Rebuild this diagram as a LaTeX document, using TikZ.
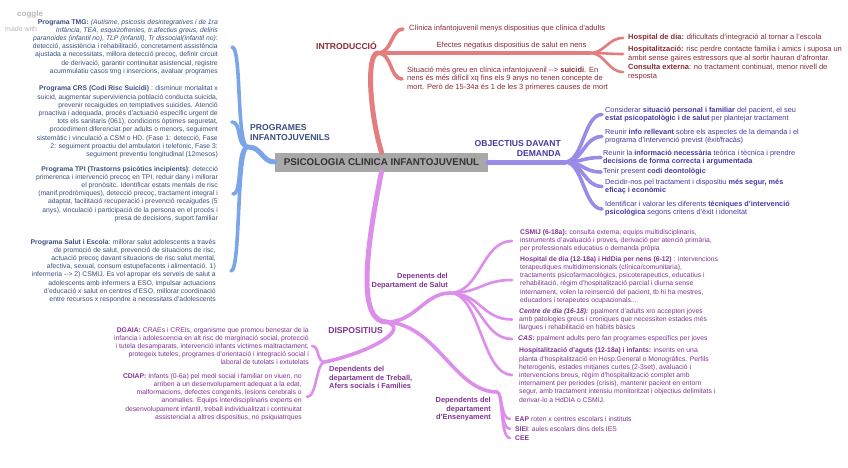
\documentclass[tikz,border=0pt]{standalone}
\usepackage{fontspec}
\setmainfont{Liberation Sans}
\usetikzlibrary{positioning}
\definecolor{hubgray}{RGB}{168,168,168}
\definecolor{hubtext}{RGB}{51,51,51}
\definecolor{redline}{RGB}{228,125,125}
\definecolor{redtext}{RGB}{138,42,52}
\definecolor{blueline}{RGB}{122,166,232}
\definecolor{bluetext}{RGB}{58,78,128}
\definecolor{violine}{RGB}{152,140,232}
\definecolor{viotext}{RGB}{72,56,158}
\definecolor{pinkline}{RGB}{221,142,234}
\definecolor{pinktext}{RGB}{128,52,146}
\tikzset{
  hub/.style    = {fill=hubgray, text=hubtext, font=\bfseries\fontsize{9.8}{11}\selectfont, minimum width=213pt, minimum height=19pt, inner sep=0pt},
  topic/.style  = {font=\bfseries\fontsize{8.6}{10.2}\selectfont, inner sep=0pt},
  sub/.style    = {font=\bfseries\fontsize{7.4}{8.6}\selectfont, inner sep=0pt},
  leaf/.style   = {font=\fontsize{6.8}{8.2}\selectfont, inner sep=0pt},
  rleaf/.style  = {leaf, font=\fontsize{7.5}{8.4}\selectfont},
  vleaf/.style  = {leaf, font=\fontsize{7.3}{8.0}\selectfont},
  wmark/.style  = {text=black!28, inner sep=0pt, anchor=west},
  trunk/.style  = {line width=5pt, line cap=round},
  branch/.style = {line width=3.6pt, line cap=round},
  twig/.style   = {line width=2.6pt, line cap=round},
}

\begin{document}
\begin{tikzpicture}[x=1pt, y=-1pt]
  \fill[white] (0,0) rectangle (848,468);
  \useasboundingbox (0,0) rectangle (848,468);

  \node[wmark, font=\bfseries\fontsize{8}{9}\selectfont] (coggle) at (17,14) {coggle};
  \node[wmark, font=\fontsize{7}{8}\selectfont] (madewith) at (5,29) {made with};

  \node[hub] (hub) at (381.5,162) {PSICOLOGIA CLINICA INFANTOJUVENUL};

  % introduccio
  \coordinate (intro) at (378,53);
  \coordinate (hospj) at (590,53);
  \coordinate (clintip) at (403,29);
  \coordinate (suictip) at (402,79);
  \coordinate (hdtip) at (623,38);
  \coordinate (hosptip) at (623,54);
  \coordinate (cextip) at (623,72);
  \draw[trunk, redline] (hub.north) .. controls +(-12,-40) and +(-12,0) .. (intro);
  \draw[branch, redline] (intro) .. controls +(14,0) and +(-12,0) .. (clintip);
  \draw[branch, redline] (intro) .. controls +(14,0) and +(-12,0) .. (suictip);
  \draw[branch, redline] (intro) -- node[rleaf, pos=.63, above=2.5pt, text=redtext] (efectes) {Efectes negatius dispositius de salut en nens} (hospj);
  \draw[twig, redline] (hospj) .. controls +(15,0) and +(-15,0) .. (hdtip);
  \draw[twig, redline] (hospj) .. controls +(15,0) and +(-15,0) .. (hosptip);
  \draw[twig, redline] (hospj) .. controls +(15,0) and +(-15,0) .. (cextip);
  \node[topic, text=redtext, above left=3pt and 1pt of intro] (introlab) {INTRODUCCIÓ};
  \node[rleaf, text=redtext, right=6pt of clintip] (clinica) {Clínica infantojuvenil menys dispositius que clínica d'adults};
  \node[rleaf, text=redtext, align=left, right=5pt of suictip] (suicidi) {Situació més greu en clínica infantojuvenil -{}-> \textbf{suicidi}. En\\nens és més difícil xq fins els 9 anys no tenen concepte de\\mort. Però de 15-34a és 1 de les 3 primeres causes de mort};
  \node[rleaf, text=redtext, right=5pt of hdtip] (hdia) {\textbf{Hospital de dia:} dificultats d'integració al tornar a l'escola};
  \node[rleaf, text=redtext, align=left, right=5pt of hosptip] (hospit) {\textbf{Hospitalització:} risc perdre contacte familia i amics i suposa un\\àmbit sense gaires estressors que al sortir hauran d'afrontar.};
  \node[rleaf, text=redtext, align=left, right=5pt of cextip] (cexterna) {\textbf{Consulta externa}: no tractament continuat, menor nivell de\\resposta};

  % programes
  \coordinate (prog) at (248,147);
  \coordinate (tmgtip) at (232,47);
  \coordinate (crstip) at (232,122);
  \coordinate (tpitip) at (233,194);
  \coordinate (esctip) at (231,271);
  \draw[trunk, blueline] (hub.west) .. controls +(-13,0) and +(14,0) .. (prog);
  \foreach \t in {tmgtip,crstip,tpitip,esctip}
    \draw[branch, blueline] (prog) .. controls +(-12,0) and +(10,0) .. (\t);
  \node[topic, text=bluetext, align=left, above right=6pt and 2pt of prog] (proglab) {PROGRAMES\\INFANTOJUVENILS};
  \node[leaf, text=bluetext, align=right, left=14pt of tmgtip] (tmg) {\textbf{Programa TMG:} \textit{(Autisme, psicosis desintegratives i de 1ra}\\\textit{Infància, TEA, esquizofrenies, tr.afectius greus, deliris}\\\textit{paranoides (infantil no), TLP (infantil), Tr dissocial(infantil no)}:\\detecció, assistència i rehabilitació, concretament assistència\\ajustada a necessitats, millora detecció precoç, definir circuit\\de derivació, garantir continuitat asistencial, registre\\acummulatiu casos tmg i insercions, avaluar programes};
  \node[leaf, text=bluetext, align=right, left=14pt of crstip] (crs) {\textbf{Programa CRS (Codi Risc Suicidi)} : disminuir mortalitat x\\suicid, augmentar superviviencia població conducta suicida,\\prevenir recaigudes en temptatives suicides. Atenció\\proactiva i adequada, procés d'actuació específic urgent de\\tots els sanitaris (061), condicions òptimes seguretat,\\procediment diferenciat per adults o menors, seguiment\\sistemàtic i vinculació a CSM o HD. (Fase 1: detecció, Fase\\2: seguiment proactiu del ambulatori i telefonic, Fase 3:\\seguiment preventiu longitudinal (12mesos)};
  \node[leaf, text=bluetext, align=right, left=15pt of tpitip] (tpi) {\textbf{Programa TPI (Trastorns psicòtics incipients)}: detecció\\primerenca i intervenció precoç en TPI, reduir dany i millorar\\el pronòsitc. Identificar estats mentals de risc\\(manif.prodròmiques), detecció precoç, tractament integral i\\adaptat, facilitació recuperació i prevenció recaigudes (5\\anys), vinculació i participació de la persona en el procés i\\presa de decisions, suport familiar};
  \node[leaf, text=bluetext, align=right, left=15pt of esctip] (escola) {\textbf{Programa Salut i Escola}: millorar salut adolescents a través\\de promoció de salut, prevenció de situacions de risc,\\actuació precoç davant situacions de risc salut mental,\\afectiva, sexual, consum estupefacents i alimentació. 1)\\infermeria -{}-> 2) CSMIJ. Es vol apropar els serveis de salut a\\adolescents amb infermers a ESO, impulsar actuacions\\d'educació x salut en centres d'ESO, millorar coordinació\\entre recursos x respondre a necessitats d'adolescents};

  % objectius
  \coordinate (obj) at (565,162);
  \coordinate (sittip) at (602,114.5);
  \coordinate (reutip) at (602,136.5);
  \coordinate (inftip) at (601,157.5);
  \coordinate (deotip) at (601,172);
  \coordinate (segtip) at (602,186.5);
  \coordinate (tectip) at (602,209);
  \draw[trunk, violine] (hub.east) -- (obj);
  \foreach \t in {sittip,reutip,inftip,deotip,segtip,tectip}
    \draw[branch, violine] (obj) .. controls +(18,0) and +(-18,0) .. (\t);
  \node[topic, text=viotext, align=right, above left=5pt and 4pt of obj] (objlab) {OBJECTIUS DAVANT\\DEMANDA};
  \node[vleaf, text=viotext, align=left, right=3pt of sittip] (situacio) {Considerar \textbf{situació personal i familiar} del pacient, el seu\\\textbf{estat psicopatològic i de salut} per plantejar tractament};
  \node[vleaf, text=viotext, align=left, right=3pt of reutip] (reunir) {Reunir \textbf{info rellevant} sobre els aspectes de la demanda i el\\programa d'intervenció previst (èxit/fracàs)};
  \node[vleaf, text=viotext, align=left, right=2pt of inftip] (informacio) {Reunir la \textbf{informació necessària} teòrica i tècnica i prendre\\\textbf{decisions de forma correcta i argumentada}};
  \node[vleaf, text=viotext, right=2pt of deotip] (deonto) {Tenir present \textbf{codi deontològic}};
  \node[vleaf, text=viotext, align=left, right=3pt of segtip] (segur) {Decidir-nos pel tractament i dispositiu \textbf{més segur, més}\\\textbf{eficaç i econòmic}};
  \node[vleaf, text=viotext, align=left, right=3pt of tectip] (tecniques) {Identificar i valorar les diferents \textbf{tècniques d'intervenció}\\\textbf{psicològica} segons criteris d'èxit i idoneïtat};

  % dispositius
  \coordinate (disp) at (387,322);
  \coordinate (salutj) at (450,293);
  \coordinate (treballj) at (325,362);
  \coordinate (ensj) at (497,392);
  \coordinate (csmijtip) at (512,241);
  \coordinate (hddtip) at (512,280);
  \coordinate (cdtip) at (512,319.5);
  \coordinate (castip) at (512,339);
  \coordinate (agutstip) at (512,375);
  \coordinate (eaptip) at (510,419);
  \coordinate (sieitip) at (510,429);
  \coordinate (ceetip) at (510,438);
  \coordinate (dgaiatip) at (312,346);
  \coordinate (cdiaptip) at (307,397);
  \draw[trunk, pinkline] (hub.south) .. controls +(-18,90) and +(-28,0) .. (disp);
  \draw[branch, pinkline] (disp) .. controls +(28,0) and +(-25,0) .. (salutj);
  \draw[branch, pinkline] (disp) .. controls +(23,8) and +(45,-10) .. (treballj);
  \draw[branch, pinkline] (disp) .. controls +(50,3) and +(-42,0) .. (ensj);
  \foreach \t in {csmijtip,hddtip,cdtip,castip,agutstip}
    \draw[twig, pinkline] (salutj) .. controls +(30,0) and +(-30,0) .. (\t);
  \foreach \t in {eaptip,sieitip,ceetip}
    \draw[twig, pinkline] (ensj) .. controls +(6,0) and +(-10,0) .. (\t);
  \draw[twig, pinkline] (treballj) .. controls +(-9,0) and +(8,0) .. (dgaiatip);
  \draw[twig, pinkline] (treballj) .. controls +(-9,0) and +(10,0) .. (cdiaptip);
  \node[topic, text=pinktext, below left=5pt and 4pt of disp] (displab) {DISPOSITIUS};
  \node[sub, text=pinktext, align=right, above left=4pt and 2pt of salutj] (salutlab) {Depenents del\\Departament de Salut};
  \node[sub, text=pinktext, align=left, below right=4pt and 4pt of treballj] (treballlab) {Dependents del\\departament de Treball,\\Afers socials i Famílies};
  \node[sub, text=pinktext, align=right, below left=5pt and 6pt of ensj] (enslab) {Dependents del\\departament\\d'Ensenyament};
  \node[leaf, text=pinktext, align=left, right=8pt of csmijtip] (csmij) {\textbf{CSMIJ (6-18a):} consulta externa, equips multidisciplinaris,\\instruments d'avaluació i proves, derivació per atenció primària,\\per professionals educatius o demanda pròpia};
  \node[leaf, text=pinktext, align=left, right=8pt of hddtip] (hddia) {\textbf{Hospital de dia (12-18a) i HdDia per nens (6-12)} : intervencions\\terapeutiques multidimensionals (clínica/comunitaria),\\tractaments psicofarmacològics, psicoterapeutics, educatius i\\rehabilitació, règim d'hospitalització parcial i diurna sense\\internament, volen la reinserció del pacient, tb hi ha mestres,\\educadors i terapeutes ocupacionals...};
  \node[leaf, text=pinktext, align=left, right=7pt of cdtip] (cdia) {\textbf{\textit{Centre de dia (16-18):}} ppalment d'adults xro accepten joves\\amb patologies greus i croniques que necessiten estades més\\llargues i rehabilitació en hàbits bàsics};
  \node[leaf, text=pinktext, right=6pt of castip] (cas) {\textbf{\textit{CAS:}} ppalment adults pero fan programes específics per joves};
  \node[leaf, text=pinktext, align=left, right=7pt of agutstip] (aguts) {\textbf{Hospitalització d'aguts (12-18a) i infants:} inserits en una\\planta d'hospitalització en Hosp.General o Monogràfics. Perfils\\heterogenis, estades mitjanes curtes (2-3set), avaluació i\\intervencions breus, règim d'hospitalització complet amb\\internament per periodes (crisis), mantenir pacient en entorn\\segur, amb tractament intensiu monitoritzat i objectius delimitats i\\derivar-lo a HdDIA o CSMIJ.};
  \node[leaf, text=pinktext, right=5pt of eaptip] (eap) {\textbf{EAP} roten x centres escolars i instituts};
  \node[leaf, text=pinktext, right=5pt of sieitip] (siei) {\textbf{SIEI}: aules escolars dins dels IES};
  \node[leaf, text=pinktext, right=5pt of ceetip] (cee) {\textbf{CEE}};
  \node[leaf, text=pinktext, align=right, left=3pt of dgaiatip] (dgaia) {\textbf{DGAIA:} CRAEs i CREIs, organisme que promou benestar de la\\infancia i adolescencia en alt risc de marginació social, protecció\\i tutela desamparats, intervenció infants victimes maltractament,\\protegeix tuteles, programes d'orientació i integració social i\\laboral de tutelats i extutelats};
  \node[leaf, text=pinktext, align=right, left=5pt of cdiaptip] (cdiap) {\textbf{CDIAP:} Infants (0-6a) pel medi social i familiar on viuen, no\\arriben a un desenvolupament adequat a la edat,\\malformacions, defectes congenits, lesions cerebrals o\\anomalies. Equips interdisciplinaris experts en\\desenvolupament infantil, treball individualitzat i continuitat\\assistencial a altres dispositius, no psiquiatrques};
\end{tikzpicture}
\end{document}
